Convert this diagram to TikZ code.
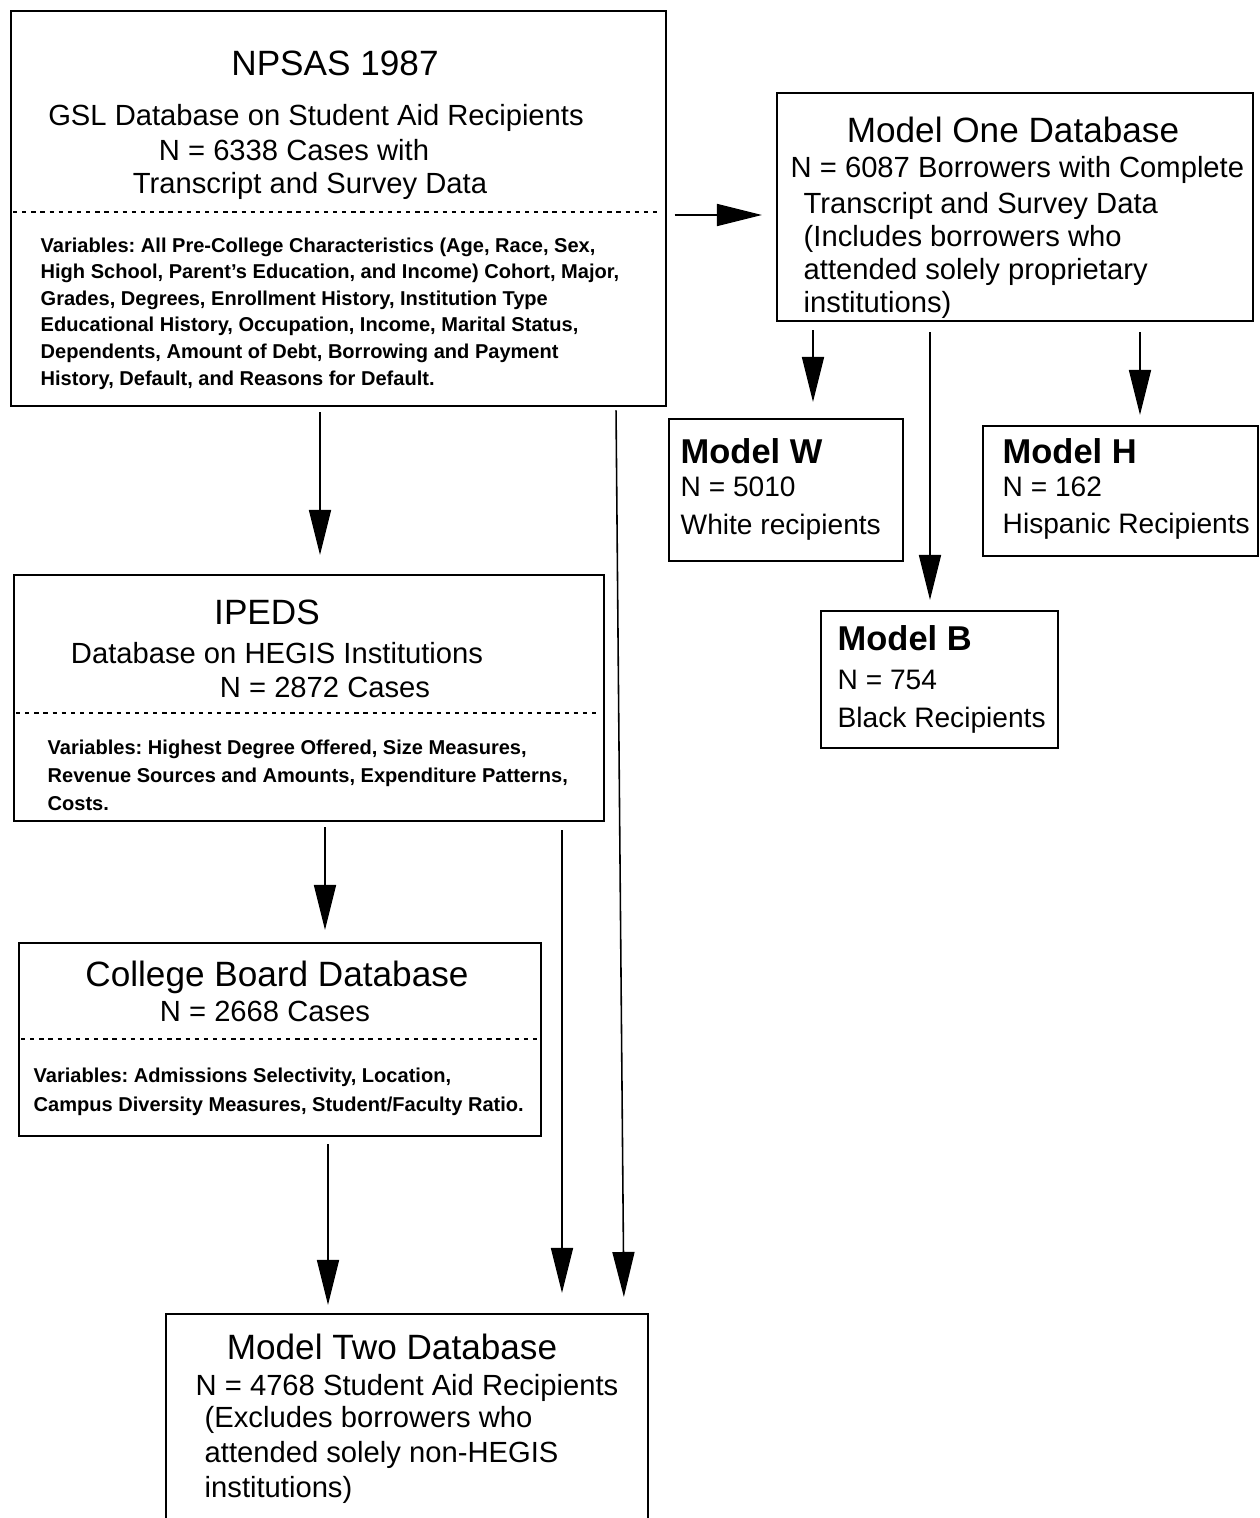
\documentclass[tikz,border=0pt]{standalone}
\usepackage{fontspec}
\setmainfont{Liberation Sans}
\usetikzlibrary{arrows.meta}
\frenchspacing
\begin{document}
\begin{tikzpicture}[x=0.01cm,y=-0.01cm,
  box/.style={draw, line width=0.6pt, rectangle, inner sep=0pt, anchor=north west},
  ttl/.style={font=\fontsize{10}{12}\selectfont, inner sep=0pt, anchor=base},
  sub/.style={font=\fontsize{8.3}{10}\selectfont, inner sep=0pt},
  var/.style={font=\fontsize{5.7}{7}\selectfont\bfseries, inner sep=0pt, anchor=base west},
  mtitle/.style={font=\fontsize{9.8}{12}\selectfont\bfseries, inner sep=0pt, anchor=base west},
  mline/.style={font=\fontsize{8}{10}\selectfont, inner sep=0pt, anchor=base west},
  sepline/.style={dash pattern=on 1.2pt off 1.4pt, line width=0.5pt},
  arr/.style={-{Triangle[length=0.45cm,width=0.22cm]}, line width=0.45pt}]
\useasboundingbox[fill=white] (0,0) rectangle (1259,1518);

% boxes
\node[box, minimum width=6.55cm, minimum height=3.95cm] (npsas) at (10,10) {};
\node[box, minimum width=4.76cm, minimum height=2.28cm] (m1) at (776,92) {};
\node[box, minimum width=2.34cm, minimum height=1.42cm] (mw) at (668,418) {};
\node[box, minimum width=2.75cm, minimum height=1.30cm] (mh) at (982,425) {};
\node[box, minimum width=2.37cm, minimum height=1.37cm] (mb) at (820,610) {};
\node[box, minimum width=5.90cm, minimum height=2.46cm] (ipeds) at (13,574) {};
\node[box, minimum width=5.22cm, minimum height=1.93cm] (cb) at (18,942) {};
\node[box, minimum width=4.82cm, minimum height=2.40cm] (m2) at (165,1313) {};

% separators
\draw[sepline] (13,212) -- (662,212);
\draw[sepline] (16,713) -- (600,713);
\draw[sepline] (21,1039) -- (537,1039);

% NPSAS text
\node[ttl] (t1) at (335,75.5) {NPSAS 1987};
\node[sub, anchor=base] (t1a) at (316,125) {GSL Database on Student Aid Recipients};
\node[sub, anchor=base] (t1b) at (294,160) {N = 6338 Cases with};
\node[sub, anchor=base] (t1c) at (310,193) {Transcript and Survey Data};
\node[var] (nv1) at (40,252) {Variables: All Pre-College Characteristics (Age, Race, Sex,};
\node[var] (nv2) at (40,278.6) {High School, Parent's Education, and Income) Cohort, Major,};
\node[var] (nv3) at (40,305.2) {Grades, Degrees, Enrollment History, Institution Type};
\node[var] (nv4) at (40,331.8) {Educational History, Occupation, Income, Marital Status,};
\node[var] (nv5) at (40,358.4) {Dependents, Amount of Debt, Borrowing and Payment};
\node[var] (nv6) at (40,385) {History, Default, and Reasons for Default.};

% Model One text
\node[ttl] (t2) at (1013,142.5) {Model One Database};
\node[sub, anchor=base west] (t2a) at (790,177.5) {N = 6087 Borrowers with Complete};
\node[sub, anchor=base west] (t2b) at (803,213.5) {Transcript and Survey Data};
\node[sub, anchor=base west] (t2c) at (803,246.5) {(Includes borrowers who};
\node[sub, anchor=base west] (t2d) at (803,279.5) {attended solely proprietary};
\node[sub, anchor=base west] (t2e) at (803,312.5) {institutions)};

% Model W / H / B
\node[mtitle] (w1) at (680,463) {Model W};
\node[mline] (w2) at (680,496.5) {N = 5010};
\node[mline] (w3) at (680,534.5) {White recipients};
\node[mtitle] (h1) at (1002,463) {Model H};
\node[mline] (h2) at (1002,496.5) {N = 162};
\node[mline] (h3) at (1002,533.5) {Hispanic Recipients};
\node[mtitle] (b1) at (837,650) {Model B};
\node[mline] (b2) at (837,689) {N = 754};
\node[mline] (b3) at (837,727) {Black Recipients};

% IPEDS text
\node[ttl] (t3) at (267,624.5) {IPEDS};
\node[sub, anchor=base] (t3a) at (277,663.5) {Database on HEGIS Institutions};
\node[sub, anchor=base] (t3b) at (325,697.5) {N = 2872 Cases};
\node[var] (iv1) at (47,754) {Variables: Highest Degree Offered, Size Measures,};
\node[var] (iv2) at (47,782.5) {Revenue Sources and Amounts, Expenditure Patterns,};
\node[var] (iv3) at (47,810) {Costs.};

% College Board text
\node[ttl] (t4) at (277,986.5) {College Board Database};
\node[sub, anchor=base] (t4a) at (265,1021.5) {N = 2668 Cases};
\node[var] (cv1) at (33,1082) {Variables: Admissions Selectivity, Location,};
\node[var] (cv2) at (33,1111) {Campus Diversity Measures, Student/Faculty Ratio.};

% Model Two text
\node[ttl] (t5) at (392,1359.5) {Model Two Database};
\node[sub, anchor=base west] (t5a) at (195,1395.5) {N = 4768 Student Aid Recipients};
\node[sub, anchor=base west] (t5b) at (204,1427.5) {(Excludes borrowers who};
\node[sub, anchor=base west] (t5c) at (204,1462.5) {attended solely non-HEGIS};
\node[sub, anchor=base west] (t5d) at (204,1497.5) {institutions)};

% x / y helper coordinates
\coordinate (xa) at (320,0);
\coordinate (xb) at (325,0);
\coordinate (xc) at (328,0);
\coordinate (xd) at (562,0);
\coordinate (xe1) at (616,0);
\coordinate (xe2) at (624,0);
\coordinate (xw) at (813,0);
\coordinate (xbk) at (930,0);
\coordinate (xh) at (1140,0);
\coordinate (ym) at (0,215);

% connectors
\draw[arr, shorten <=0.05cm, shorten >=0.19cm] (npsas.south -| xa) -- (ipeds.north -| xa);
\draw[arr, shorten <=0.05cm, shorten >=0.12cm] (ipeds.south -| xb) -- (cb.north -| xb);
\draw[arr, shorten <=0.07cm, shorten >=0.08cm] (cb.south -| xc) -- (m2.north -| xc);
\draw[arr, shorten <=0.08cm, shorten >=0.20cm] (ipeds.south -| xd) -- (m2.north -| xd);
\draw[arr, shorten <=0.03cm, shorten >=0.16cm] (npsas.south -| xe1) -- (m2.north -| xe2);
\draw[arr, shorten <=0.07cm, shorten >=0.14cm] (npsas.east |- ym) -- (m1.west |- ym);
\draw[arr, shorten <=0.08cm, shorten >=0.16cm] (m1.south -| xw) -- (mw.north -| xw);
\draw[arr, shorten <=0.10cm, shorten >=0.10cm] (m1.south -| xbk) -- (mb.north -| xbk);
\draw[arr, shorten <=0.10cm, shorten >=0.10cm] (m1.south -| xh) -- (mh.north -| xh);
\end{tikzpicture}
\end{document}
